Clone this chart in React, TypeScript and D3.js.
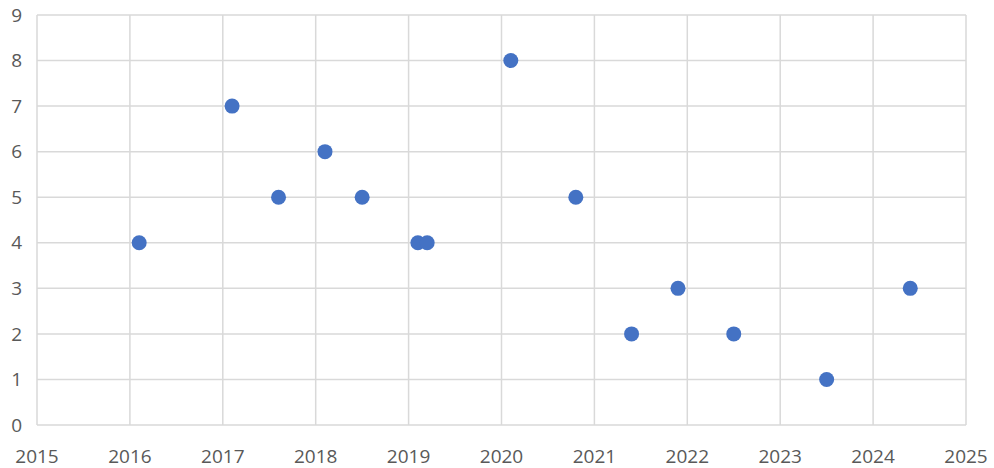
import React from "react";
import * as d3 from "d3";

const years = [2016.1, 2017.1, 2017.6, 2018.1, 2018.5, 2019.1, 2019.2, 2020.1, 2020.8, 2021.4, 2021.9, 2022.5, 2023.5, 2024.4];
const values = [4, 7, 5, 6, 5, 4, 4, 8, 5, 2, 3, 2, 1, 3];
const xTicks = [2015, 2016, 2017, 2018, 2019, 2020, 2021, 2022, 2023, 2024, 2025];
const yTicks = [0, 1, 2, 3, 4, 5, 6, 7, 8, 9];

export default function App() {
  const W = 994, H = 468;
  const left = 37, right = 966, top = 15, bottom = 425;
  const x = d3.scaleLinear().domain([2015, 2025]).range([left, right]);
  const y = d3.scaleLinear().domain([0, 9]).range([bottom, top]);
  const font = "'Open Sans', 'Noto Sans', sans-serif";
  return (
    <svg width={W} height={H} style={{ position: "absolute", left: 0, top: 0, background: "#fff" }}>
      <g stroke="#d9d9d9" strokeWidth={1.5}>
        {xTicks.map((t) => (
          <line key={"x" + t} x1={x(t)} x2={x(t)} y1={top} y2={bottom} />
        ))}
        {yTicks.map((t) => (
          <line key={"y" + t} x1={left} x2={right} y1={y(t)} y2={y(t)} />
        ))}
      </g>
      <g fill="#595959" fontFamily={font} fontSize={19}>
        {yTicks.map((t) => (
          <text key={"yl" + t} x={22} y={y(t)} dy="0.35em" textAnchor="end">{t}</text>
        ))}
        {xTicks.map((t) => (
          <text key={"xl" + t} x={x(t)} y={456} dy="0.35em" textAnchor="middle">{t}</text>
        ))}
      </g>
      <g fill="#4472C4">
        {years.map((yr, i) => (
          <circle key={i} cx={x(yr)} cy={y(values[i])} r={7.5} />
        ))}
      </g>
    </svg>
  );
}
